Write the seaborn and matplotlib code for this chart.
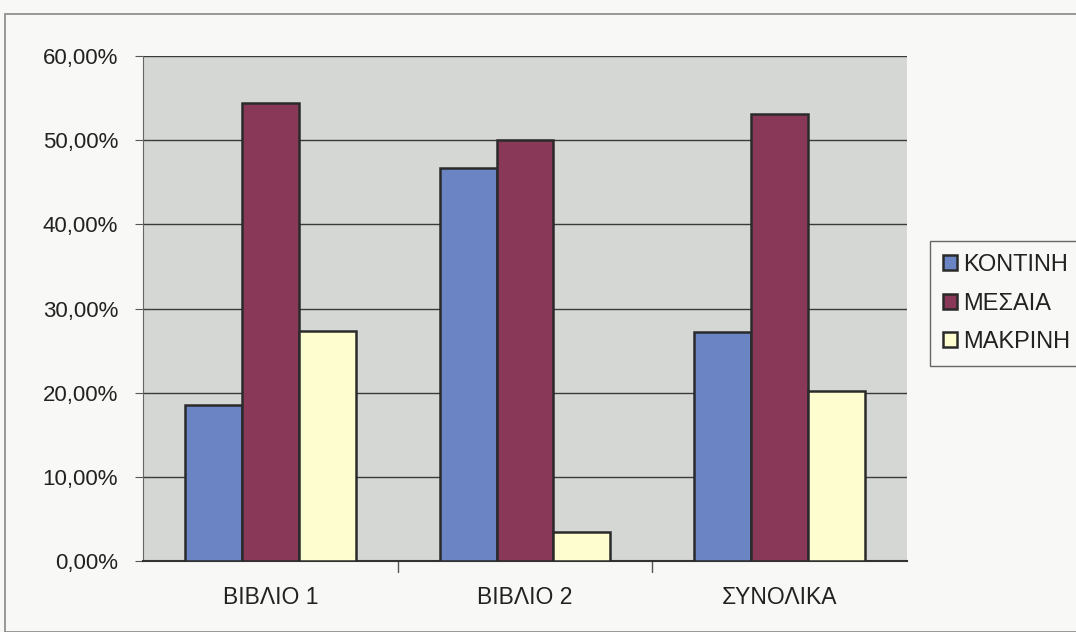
import matplotlib
matplotlib.use("Agg")
import matplotlib.pyplot as plt
from matplotlib.patches import Rectangle
from matplotlib.ticker import FuncFormatter, MultipleLocator
import pandas as pd
import seaborn as sns

categories = ["ΒΙΒΛΙΟ 1", "ΒΙΒΛΙΟ 2", "ΣΥΝΟΛΙΚΑ"]
series = ["ΚΟΝΤΙΝΗ", "ΜΕΣΑΙΑ", "ΜΑΚΡΙΝΗ"]
kontini = [18.5, 46.7, 27.2]
mesaia = [54.4, 50.0, 53.1]
makrini = [27.3, 3.4, 20.2]
colors = ["#6a84c4", "#8a3858", "#fdfdcf"]

rows = []
for name, vals in zip(series, [kontini, mesaia, makrini]):
    for cat, v in zip(categories, vals):
        rows.append({"cat": cat, "series": name, "value": v})
df = pd.DataFrame(rows)

sns.set_style("white")
plt.rcParams["font.family"] = ["Liberation Sans", "DejaVu Sans"]

fig = plt.figure(figsize=(10.76, 6.32), dpi=100, facecolor="#f8f8f6")
ax = fig.add_axes([143 / 1076, 1 - 561 / 632, (907 - 143) / 1076, (561 - 56) / 632])
ax.set_facecolor("#d5d7d5")

sns.barplot(data=df, x="cat", y="value", hue="series", order=categories,
            hue_order=series, palette=colors, width=0.67, saturation=1,
            edgecolor="#2a2a2a", linewidth=1.8, ax=ax, zorder=3)

ax.set_ylim(0, 60)
ax.set_xlim(-0.5, 2.5)
ax.yaxis.set_major_locator(MultipleLocator(10))
ax.yaxis.set_major_formatter(FuncFormatter(lambda v, p: f"{v:.2f}%".replace(".", ",")))
ax.grid(axis="y", color="#3a3a3a", linewidth=1.0, zorder=1)
ax.set_axisbelow(True)
ax.set_xlabel("")
ax.set_ylabel("")
for side in ["top", "right"]:
    ax.spines[side].set_visible(False)
ax.spines["left"].set_color("#666666")
ax.spines["bottom"].set_color("#333333")
ax.spines["bottom"].set_linewidth(1.5)
ax.tick_params(axis="y", labelsize=16, length=6, color="#555555", left=True, pad=12,
               labelcolor="#222222")
ax.tick_params(axis="x", labelsize=16.5, length=0, pad=18, labelcolor="#222222")
for x in [0.5, 1.5]:
    ax.plot([x, x], [0, -1.3], color="#555555", lw=1, clip_on=False)

handles, labels = ax.get_legend_handles_labels()
leg = ax.legend(handles, labels, loc="upper left",
                bbox_to_anchor=(930 / 1076, 1 - 241 / 632), bbox_transform=fig.transFigure,
                fontsize=17, frameon=True, fancybox=False, edgecolor="#444444",
                handlelength=0.6, handleheight=0.6, handletextpad=0.25,
                labelspacing=0.7, borderpad=0.55, borderaxespad=0)
for t in leg.get_texts():
    t.set_color("#222222")
leg.get_frame().set_facecolor("#f8f8f6")
leg.get_frame().set_linewidth(1.0)

fig.patches.append(Rectangle((5 / 1076, 0.0), 1.2, 1 - 14 / 632, transform=fig.transFigure,
                             fill=False, edgecolor="#888888", linewidth=1.2))

fig.savefig("out.png", dpi=100, facecolor=fig.get_facecolor())
